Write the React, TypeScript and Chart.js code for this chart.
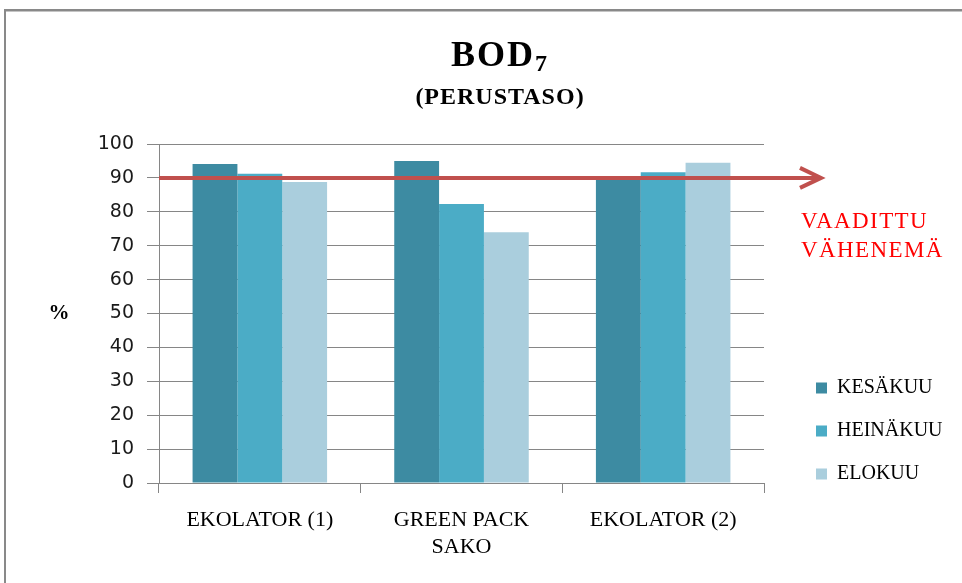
import { useEffect, useRef } from "react";
import { Chart, registerables } from "chart.js";

Chart.register(...registerables);

// ---- data ----
const categories: (string | string[])[] = ["EKOLATOR (1)", ["GREEN PACK", "SAKO"], "EKOLATOR (2)"];
const seriesNames = ["KESÄKUU", "HEINÄKUU", "ELOKUU"];
const kesakuu = [94.1, 95.0, 89.7];
const heinakuu = [91.2, 82.3, 91.7];
const elokuu = [88.8, 74.0, 94.5];
const seriesColors = ["#3D8BA2", "#4BACC6", "#AACEDD"];
const requiredLevel = 90;
const yMin = 0;
const yMax = 100;
const yStep = 10;
const titleMain = "BOD";
const titleSub = "7";
const subtitle = "(PERUSTASO)";
const axisTitle = "%";
const noteLines = ["VAADITTU", "VÄHENEMÄ"];

const GRID = "#868686";
const SERIF = '"Liberation Serif", "Times New Roman", serif';
const LEGEND_FONT_SIZE = 20;
const LEGEND_PAD = 23;
const LEGEND_BOX = 11;

const framePlugin = {
  id: "frame",
  beforeDraw(chart: any) {
    const ctx = chart.ctx;
    ctx.save();
    ctx.fillStyle = "#FFFFFF";
    ctx.fillRect(0, 0, chart.width, chart.height);
    ctx.fillStyle = "#898989";
    ctx.fillRect(4, 9, chart.width, 2.5);
    ctx.fillRect(4, 9, 2, chart.height);
    ctx.restore();
  },
};

const legendPlacePlugin = {
  id: "legendPlace",
  afterLayout(chart: any) {
    const lg = chart.legend;
    if (!lg) return;
    const left = chart.chartArea.right + 29;
    lg.left = left;
    lg.right = left + lg.width;
    lg.top = 355;
  },
};

const annotationPlugin = {
  id: "annotation",
  afterDatasetsDraw(chart: any) {
    const ctx = chart.ctx;
    const area = chart.chartArea;
    const y = chart.scales.y.getPixelForValue(requiredLevel);
    const tipX = area.right + 57;
    ctx.save();
    ctx.strokeStyle = "#C0504D";
    ctx.lineWidth = 4;
    ctx.beginPath();
    ctx.moveTo(area.left, y);
    ctx.lineTo(tipX - 2, y);
    ctx.stroke();
    ctx.lineJoin = "miter";
    ctx.beginPath();
    ctx.moveTo(tipX - 21, y - 10);
    ctx.lineTo(tipX, y);
    ctx.lineTo(tipX - 21, y + 10);
    ctx.stroke();

    ctx.fillStyle = "#FF0000";
    ctx.font = `23px ${SERIF}`;
    (ctx as any).letterSpacing = "1.4px";
    ctx.textAlign = "left";
    ctx.textBaseline = "alphabetic";
    ctx.fillText(noteLines[0], area.right + 37, y + 50);
    ctx.fillText(noteLines[1], area.right + 37, y + 79);
    ctx.restore();
  },
};

const textPlugin = {
  id: "texts",
  afterDraw(chart: any) {
    const ctx = chart.ctx;
    const area = chart.chartArea;
    ctx.save();
    ctx.fillStyle = "#000000";
    ctx.textBaseline = "alphabetic";
    ctx.textAlign = "left";
    const cx = 500;
    (ctx as any).letterSpacing = "2px";
    ctx.font = `bold 36px ${SERIF}`;
    const wMain = ctx.measureText(titleMain).width;
    ctx.font = `bold 24px ${SERIF}`;
    const wSub = ctx.measureText(titleSub).width;
    const x0 = cx - (wMain + wSub) / 2;
    ctx.font = `bold 36px ${SERIF}`;
    ctx.fillText(titleMain, x0, 66);
    ctx.font = `bold 24px ${SERIF}`;
    ctx.fillText(titleSub, x0 + wMain, 71);

    (ctx as any).letterSpacing = "1px";
    ctx.font = `bold 24px ${SERIF}`;
    ctx.textAlign = "center";
    ctx.fillText(subtitle, cx, 104);

    (ctx as any).letterSpacing = "0px";
    ctx.font = `bold 21px ${SERIF}`;
    ctx.textBaseline = "middle";
    ctx.fillText(axisTitle, 59, (area.top + area.bottom) / 2);
    ctx.restore();
  },
};

export default function App() {
  const canvasRef = useRef<HTMLCanvasElement | null>(null);

  useEffect(() => {
    const canvas = canvasRef.current;
    if (!canvas) return;
    // estimate the legend width so that the plot area ends where the reference's does
    const mctx = canvas.getContext("2d")!;
    mctx.font = `${LEGEND_FONT_SIZE}px ${SERIF}`;
    const textW = Math.max(...seriesNames.map((n) => mctx.measureText(n).width));
    const legendW = LEGEND_PAD + LEGEND_BOX + LEGEND_FONT_SIZE / 2 + textW + 10;
    const padRight = Math.max(0, 962 - 764 - legendW);

    const seriesData = [kesakuu, heinakuu, elokuu];
    const chart = new Chart(canvas, {
      type: "bar",
      data: {
        labels: categories as any,
        datasets: seriesNames.map((name, i) => ({
          label: name,
          data: seriesData[i],
          backgroundColor: seriesColors[i],
          borderWidth: 0,
          categoryPercentage: 0.667,
          barPercentage: 1.0,
        })),
      },
      options: {
        responsive: false,
        animation: false,
        devicePixelRatio: 1,
        layout: { padding: { left: 0, top: 144, right: padRight, bottom: 0 } },
        plugins: {
          title: { display: false },
          tooltip: { enabled: false },
          legend: {
            display: true,
            position: "right",
            align: "start",
            labels: {
              boxWidth: LEGEND_BOX,
              boxHeight: LEGEND_BOX,
              padding: LEGEND_PAD,
              color: "#000000",
              font: { family: SERIF, size: LEGEND_FONT_SIZE },
            },
          },
        },
        scales: {
          x: {
            afterFit: (scale: any) => {
              scale.height = 100;
            },
            grid: {
              display: true,
              drawOnChartArea: false,
              drawTicks: true,
              tickLength: 10,
              color: GRID,
              offset: true,
            },
            border: { display: true, color: GRID, width: 1 },
            ticks: {
              color: "#000000",
              font: { family: SERIF, size: 22, lineHeight: 1.23 },
              padding: 14,
              maxRotation: 0,
              autoSkip: false,
            },
          },
          y: {
            min: yMin,
            max: yMax,
            afterFit: (scale: any) => {
              scale.width = 159;
            },
            grid: {
              color: GRID,
              lineWidth: 1,
              drawTicks: true,
              tickLength: 12,
              tickColor: GRID,
            },
            border: { display: true, color: GRID, width: 1 },
            ticks: {
              stepSize: yStep,
              color: "#1a1a1a",
              padding: 13,
              font: { family: '"DejaVu Sans", sans-serif', size: 19 },
            },
          },
        },
      },
      plugins: [framePlugin, legendPlacePlugin, annotationPlugin, textPlugin],
    });
    return () => chart.destroy();
  }, []);

  return (
    <div style={{ position: "fixed", left: 0, top: 0, width: 962, height: 583, background: "#fff" }}>
      <canvas ref={canvasRef} width={962} height={583} style={{ display: "block" }} />
    </div>
  );
}
